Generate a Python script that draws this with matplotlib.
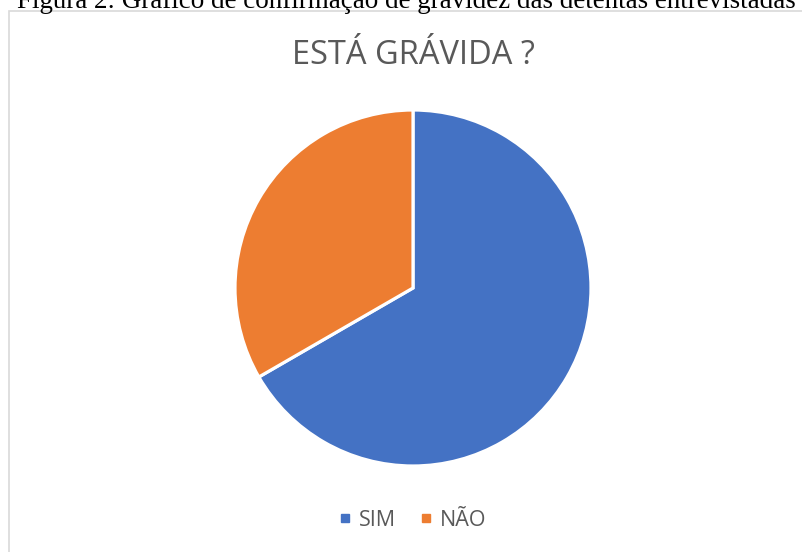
import matplotlib
matplotlib.use("Agg")
import matplotlib.pyplot as plt
from matplotlib.lines import Line2D
from matplotlib.patches import Rectangle

categories = ["SIM", "NÃO"]
values = [2, 1]
colors = ["#4472C4", "#ED7D31"]
title = "ESTÁ GRÁVIDA ?"
caption = "Figura 2: Gráfico de confirmação de gravidez das detentas entrevistadas"

W, H = 803, 552
fig = plt.figure(figsize=(W / 100, H / 100), dpi=100)
fig.patch.set_facecolor("white")

# chart border (partially outside the visible region)
fig.patches.append(Rectangle((8.5 / W, -0.1), 1.2, 1 - 10.5 / H + 0.1,
                             transform=fig.transFigure, fill=False,
                             edgecolor="#D9D9D9", linewidth=1.2))

# caption clipped at the top
cap = fig.text(17 / W, 1 - 7.5 / H, caption, family="Liberation Serif",
               fontsize=17, color="black", ha="left", va="baseline")
fig.canvas.draw()
r = fig.canvas.get_renderer()
w = cap.get_window_extent(r).width
cap.set_fontsize(17 * 780 / w)

# pie
cx, cy, rad = 413, 288, 178
ax = fig.add_axes([(cx - rad) / W, (H - cy - rad) / H, 2 * rad / W, 2 * rad / H])
ax.pie(values, colors=colors, startangle=90, counterclock=False, radius=1,
       wedgeprops=dict(edgecolor="white", linewidth=2.3))
ax.set_xlim(-1, 1)
ax.set_ylim(-1, 1)
ax.set_aspect("equal")
ax.axis("off")

fig.text(cx / W, 1 - 55 / H, title, family="Open Sans", fontsize=23.5,
         color="#595959", ha="center", va="center")

handles = [Line2D([], [], marker="s", linestyle="none", markersize=6,
                  markerfacecolor=c, markeredgecolor=c) for c in colors]
fig.legend(handles, categories, loc="center", bbox_to_anchor=(cx / W, 1 - 520 / H),
           ncol=2, frameon=False, handlelength=0.5, handletextpad=0.4,
           columnspacing=1.1, prop={"family": "Open Sans", "size": 15.5},
           labelcolor="#595959")

fig.savefig("out.png", dpi=100)
